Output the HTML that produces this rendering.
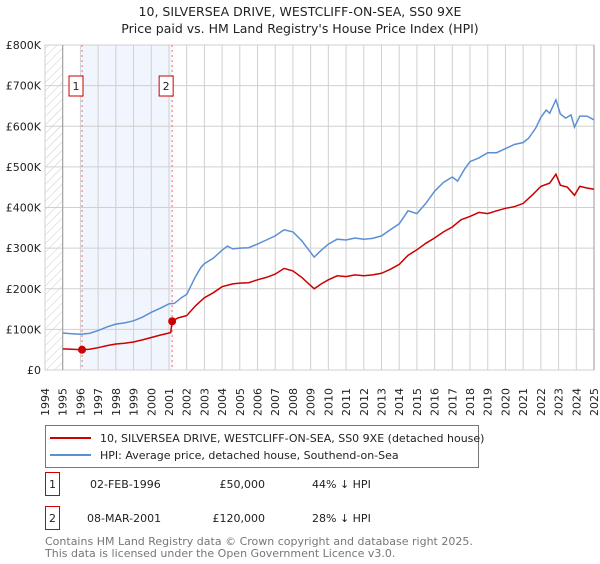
<!DOCTYPE html>
<html><head><meta charset="utf-8"><style>
body{margin:0;background:#fff;font-family:"DejaVu Sans","Liberation Sans",sans-serif;}
svg text{font-family:"DejaVu Sans","Liberation Sans",sans-serif;}
</style></head><body>
<svg id="chart" width="600" height="560" xmlns="http://www.w3.org/2000/svg">
<defs><pattern id="hatch" patternUnits="userSpaceOnUse" width="6" height="6" patternTransform="rotate(45)"><line x1="0" y1="0" x2="0" y2="6" stroke="#ccc" stroke-width="1"/></pattern></defs>
<text x="300" y="16" text-anchor="middle" font-size="12.5" fill="#222">10, SILVERSEA DRIVE, WESTCLIFF-ON-SEA, SS0 9XE</text>
<text x="300" y="33" text-anchor="middle" font-size="12.5" fill="#222">Price paid vs. HM Land Registry's House Price Index (HPI)</text>
<g id="plot"></g>
<g id="legend">
<rect x="45.5" y="425.5" width="433" height="42" fill="#fff" stroke="#777"/>
<line x1="50" y1="438" x2="91" y2="438" stroke="#cc0000" stroke-width="2"/>
<text x="100" y="442" font-size="11" fill="#222">10, SILVERSEA DRIVE, WESTCLIFF-ON-SEA, SS0 9XE (detached house)</text>
<line x1="50" y1="455" x2="91" y2="455" stroke="#5b8fd4" stroke-width="2"/>
<text x="100" y="459" font-size="11" fill="#222">HPI: Average price, detached house, Southend-on-Sea</text>
</g>
<g font-size="11" fill="#222">
<rect x="45.5" y="472.5" width="14" height="23" fill="#fff" stroke="#cc0000"/>
<text x="52.5" y="488" text-anchor="middle">1</text>
<text x="90" y="488">02-FEB-1996</text>
<text x="265" y="488" text-anchor="end">£50,000</text>
<text x="312" y="488">44% ↓ HPI</text>
<rect x="45.5" y="506.5" width="14" height="23" fill="#fff" stroke="#cc0000"/>
<text x="52.5" y="522" text-anchor="middle">2</text>
<text x="87" y="522">08-MAR-2001</text>
<text x="265" y="522" text-anchor="end">£120,000</text>
<text x="312" y="522">28% ↓ HPI</text>
</g>
<text x="45" y="545" font-size="11" fill="#777">Contains HM Land Registry data © Crown copyright and database right 2025.</text>
<text x="45" y="557" font-size="11" fill="#777">This data is licensed under the Open Government Licence v3.0.</text>
</svg>
<script>
const yTickValues=[0,100000,200000,300000,400000,500000,600000,700000,800000];
const yTickLabels=["£0","£100K","£200K","£300K","£400K","£500K","£600K","£700K","£800K"];
const xYears=[1994,1995,1996,1997,1998,1999,2000,2001,2002,2003,2004,2005,2006,2007,2008,2009,2010,2011,2012,2013,2014,2015,2016,2017,2018,2019,2020,2021,2022,2023,2024,2025];
const hpiDates=[1995,1995.5,1996,1996.5,1997,1997.5,1998,1998.5,1999,1999.5,2000,2000.5,2001,2001.3,2001.7,2002,2002.5,2002.8,2003,2003.5,2004,2004.3,2004.6,2005,2005.5,2006,2006.5,2007,2007.5,2008,2008.5,2008.9,2009.2,2009.6,2010,2010.5,2011,2011.5,2012,2012.5,2013,2013.5,2014,2014.5,2015,2015.5,2016,2016.5,2017,2017.3,2017.7,2018,2018.5,2019,2019.5,2020,2020.5,2021,2021.3,2021.7,2022,2022.3,2022.5,2022.85,2023.1,2023.4,2023.7,2023.9,2024.2,2024.6,2025];
const hpiValues=[91,89,88,90,97,106,113,116,121,130,142,152,163,164,178,186,230,252,262,275,295,305,298,300,301,310,320,330,345,340,318,295,278,295,310,322,320,325,322,324,330,345,360,392,385,410,440,462,475,465,495,513,522,535,535,545,555,560,570,595,622,640,632,665,630,620,628,598,625,625,616];
const propDates=[1995,1995.5,1996.09,1996.5,1997,1997.5,1998,1998.5,1999,1999.5,2000,2000.5,2001.1,2001.18,2001.5,2002,2002.5,2003,2003.5,2004,2004.6,2005,2005.5,2006,2006.5,2007,2007.5,2008,2008.5,2009.2,2009.6,2010,2010.5,2011,2011.5,2012,2012.5,2013,2013.5,2014,2014.5,2015,2015.5,2016,2016.5,2017,2017.5,2018,2018.5,2019,2019.5,2020,2020.5,2021,2021.5,2022,2022.5,2022.85,2023.1,2023.5,2023.9,2024.2,2024.6,2025];
const propValues=[52,51,50,51,55,60,64,66,69,74,80,86,92,120,128,134,158,178,190,205,212,214,215,222,228,236,250,244,228,200,212,222,232,230,234,232,234,238,248,260,282,296,312,325,340,352,370,378,388,385,392,398,402,410,430,452,460,482,455,450,430,452,448,445];
const saleDates=[1996.09,2001.18];
const saleValues=[50,120];
const saleLabels=["1","2"];

const NS="http://www.w3.org/2000/svg";
const L=45,R=594,T=45,B=370,Y0=1994,Y1=2025;
const xs=y=>L+(y-Y0)*(R-L)/(Y1-Y0);
const ys=v=>B-v/800000*(B-T);
const g=document.getElementById('plot');
function mk(tag,attrs,parent){const e=document.createElementNS(NS,tag);for(const k in attrs)e.setAttribute(k,attrs[k]);(parent||g).appendChild(e);return e;}
let e;
e=mk('rect',{x:L,y:T,width:xs(1995)-L,height:B-T,fill:'url(#hatch)'});


e=mk('rect',{x:xs(saleDates[0]),y:T,width:xs(saleDates[1])-xs(saleDates[0]),height:B-T,fill:'#eef3fd',opacity:0.8});


xYears.forEach(yr=>{
  e=mk('line',{x1:xs(yr),x2:xs(yr),y1:T,y2:B,stroke:'#d0d0d0','stroke-width':1});
  
  
  e=mk('text',{transform:`translate(${xs(yr)+4},${B+32}) rotate(-90)`,'font-size':11,fill:'#222','text-anchor':'middle'});
  e.textContent=yr;
  
  
});
yTickValues.forEach((v,i)=>{
  e=mk('line',{x1:L,x2:R,y1:ys(v),y2:ys(v),stroke:'#d0d0d0','stroke-width':1});
  
  
  e=mk('text',{x:L-4,y:ys(v)+4,'font-size':11,fill:'#222','text-anchor':'end'});
  e.textContent=yTickLabels[i];
  
  
});
e=mk('rect',{x:L,y:T,width:R-L,height:B-T,fill:'none',stroke:'#d0d0d0'});


e=mk('line',{x1:xs(1995),x2:xs(1995),y1:T,y2:B,stroke:'#999'});


e=mk('line',{x1:R,x2:R,y1:T,y2:B,stroke:'#999'});


saleDates.forEach((d,i)=>{
  e=mk('line',{x1:xs(d),x2:xs(d),y1:T,y2:B,stroke:'#f07070','stroke-dasharray':'2,3'});
  
  
  e=mk('rect',{x:xs(d)-13,y:76,width:14,height:20,fill:'#fff',stroke:'#cc0000'});
  
  
  e=mk('text',{x:xs(d)-6,y:90,'font-size':11,fill:'#222','text-anchor':'middle'});
  e.textContent=saleLabels[i];
  
  
});
const path=(ds,vs)=>ds.map((d,i)=>(i?'L':'M')+xs(d).toFixed(1)+','+ys(vs[i]*1000).toFixed(1)).join('');
e=mk('path',{d:path(hpiDates,hpiValues),fill:'none',stroke:'#5b8fd4','stroke-width':1.5});


e=mk('path',{d:path(propDates,propValues),fill:'none',stroke:'#cc0000','stroke-width':1.5});


saleDates.forEach((d,i)=>{
  e=mk('circle',{cx:xs(d),cy:ys(saleValues[i]*1000),r:4,fill:'#cc0000'});
  
  
});
</script>
</body></html>
